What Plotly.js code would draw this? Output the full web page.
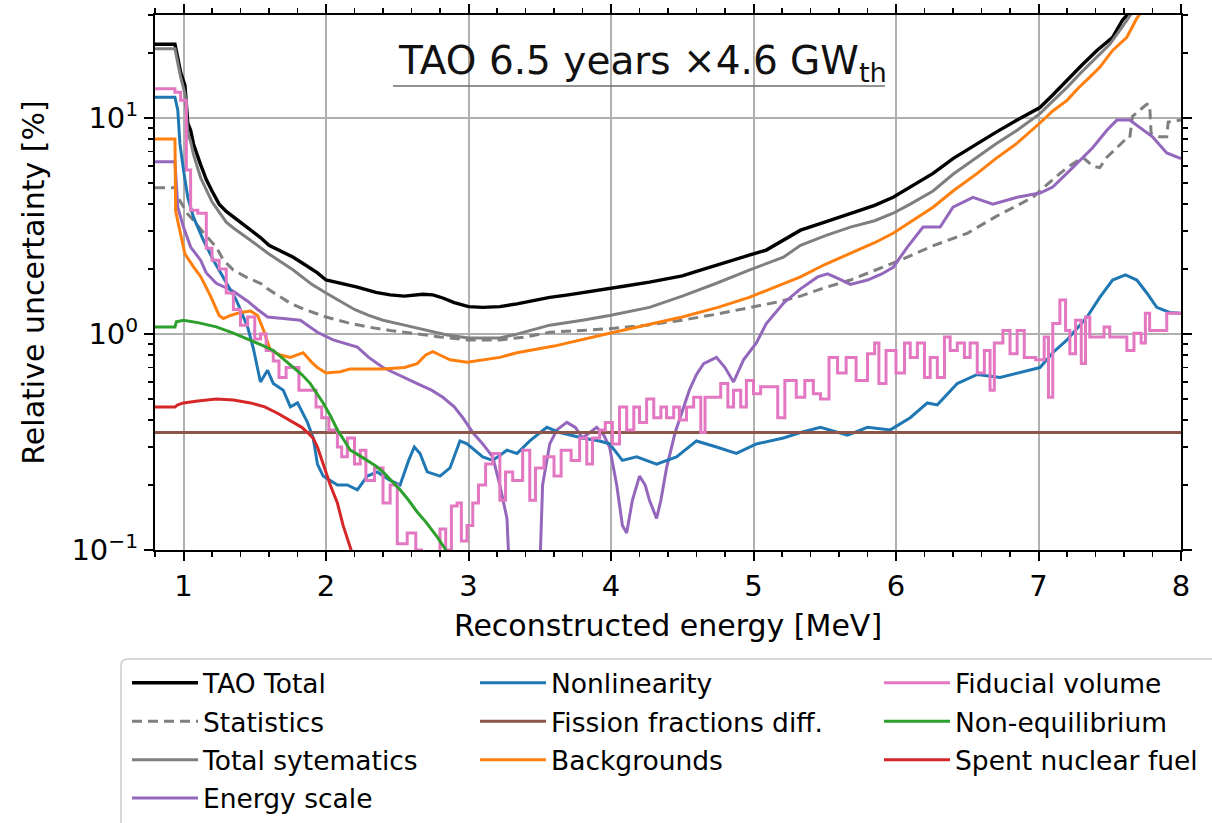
<!DOCTYPE html>
<html>
<head>
<meta charset="utf-8">
<script src="https://cdn.plot.ly/plotly-3.0.1.min.js"></script>
<style>
  html, body { margin: 0; padding: 0; background: #fff; }
  #chart { width: 1212px; height: 823px; }
</style>
</head>
<body>
<div id="chart"></div>
<script>
// Relative uncertainty [%] versus reconstructed energy [MeV]

const totalE = [0.8,0.94,0.96,0.98,1.01,1.03,1.05,1.07,1.12,1.16,1.2,1.25,1.3,1.4,1.47,1.54,1.6,1.7,1.77,1.85,1.94,2.0,2.1,2.22,2.35,2.45,2.55,2.68,2.75,2.82,2.9,3.0,3.1,3.22,3.34,3.45,3.57,3.7,3.85,3.99,4.1,4.27,4.4,4.5,4.6,4.74,4.85,4.97,5.09,5.2,5.33,5.5,5.68,5.85,5.98,6.1,6.26,6.4,6.57,6.7,6.85,7.01,7.1,7.2,7.3,7.41,7.52,7.59,7.64];
const totalV = [22,22,19,16.3,14.2,9.5,8.8,7.6,6.1,5.2,4.6,4.0,3.7,3.3,3.03,2.8,2.58,2.4,2.27,2.1,1.92,1.78,1.72,1.65,1.56,1.52,1.5,1.53,1.52,1.47,1.4,1.34,1.33,1.34,1.38,1.43,1.48,1.52,1.58,1.63,1.67,1.74,1.8,1.86,1.95,2.09,2.2,2.32,2.45,2.7,3.03,3.3,3.63,3.95,4.3,4.8,5.55,6.5,7.66,8.6,9.8,11.2,12.8,15,17.5,20.6,23.7,28.5,31];

const statE = [0.8,0.94,0.97,1.0,1.03,1.07,1.15,1.23,1.28,1.35,1.45,1.54,1.59,1.67,1.75,1.85,2.0,2.15,2.29,2.45,2.64,2.8,2.99,3.22,3.4,3.57,3.8,3.99,4.25,4.5,4.75,4.97,5.15,5.33,5.5,5.68,5.85,6.03,6.25,6.5,6.7,6.96,7.1,7.2,7.31,7.38,7.43,7.48,7.55,7.62,7.64,7.66,7.71,7.76,7.78,7.79,7.85,7.9,7.91,8.0];
const statV = [4.76,4.76,4.2,3.9,3.6,3.37,2.9,2.53,2.2,1.98,1.82,1.72,1.62,1.5,1.39,1.3,1.2,1.13,1.08,1.04,1.0,0.97,0.94,0.94,0.97,1.02,1.04,1.06,1.1,1.16,1.24,1.32,1.4,1.5,1.64,1.78,1.98,2.2,2.55,2.93,3.5,4.3,5.2,5.9,6.6,6.0,5.9,6.6,7.3,8.1,8.1,10.2,10.9,11.6,11.6,8.5,8.2,8.2,9.6,9.8];

const sysE = [0.8,0.94,0.96,0.98,1.01,1.03,1.05,1.07,1.12,1.2,1.3,1.35,1.47,1.6,1.77,1.9,2.0,2.1,2.2,2.3,2.4,2.55,2.71,2.85,3.0,3.22,3.34,3.57,3.8,3.99,4.27,4.5,4.74,4.97,5.21,5.33,5.5,5.68,5.85,5.98,6.1,6.26,6.4,6.57,6.7,6.85,7.01,7.1,7.2,7.3,7.41,7.5,7.57,7.66];
const sysV = [21,21,18,15.5,13,8.5,7.8,6.8,5.3,4.1,3.3,3.1,2.72,2.35,1.98,1.7,1.55,1.42,1.3,1.22,1.16,1.1,1.04,0.99,0.96,0.96,1.0,1.1,1.16,1.22,1.33,1.5,1.72,1.98,2.27,2.58,2.85,3.13,3.35,3.63,4.0,4.6,5.5,6.6,7.6,8.8,10.5,12,13.9,16.3,19.2,22,25.5,31];

const escaleE = [0.8,0.94,0.96,1.0,1.05,1.12,1.16,1.23,1.35,1.45,1.52,1.59,1.7,1.82,1.94,2.05,2.22,2.3,2.4,2.52,2.64,2.74,2.82,2.9,2.96,3.03,3.1,3.17,3.22,3.27,3.3,3.49,3.52,3.57,3.62,3.69,3.75,3.8,3.85,3.9,3.95,3.99,4.04,4.08,4.11,4.15,4.2,4.24,4.27,4.32,4.35,4.39,4.45,4.5,4.55,4.6,4.65,4.74,4.8,4.86,4.93,5.02,5.09,5.21,5.33,5.45,5.52,5.6,5.68,5.8,5.9,5.98,6.08,6.19,6.31,6.4,6.54,6.68,6.85,7.01,7.1,7.24,7.38,7.48,7.55,7.64,7.71,7.8,7.9,8.0];
const escaleV = [6.28,6.28,3.87,3.13,2.53,2.2,1.92,1.72,1.58,1.42,1.3,1.2,1.18,1.16,1.02,0.94,0.87,0.78,0.7,0.64,0.59,0.55,0.51,0.46,0.41,0.35,0.31,0.27,0.2,0.14,0.05,0.05,0.2,0.31,0.36,0.39,0.37,0.33,0.35,0.37,0.34,0.3,0.2,0.13,0.12,0.17,0.22,0.2,0.17,0.14,0.17,0.24,0.35,0.44,0.55,0.65,0.73,0.78,0.7,0.6,0.76,0.91,1.12,1.39,1.62,1.84,1.9,1.8,1.7,1.78,1.9,2.04,2.53,3.13,3.13,3.87,4.3,4.0,4.3,4.5,4.8,5.9,7.3,8.8,9.8,9.8,9.1,8.2,6.9,6.5];

const nonlinE = [0.8,0.94,0.96,0.975,1.0,1.03,1.07,1.14,1.21,1.28,1.37,1.45,1.49,1.54,1.59,1.63,1.7,1.75,1.8,1.87,1.91,1.94,1.98,2.08,2.15,2.22,2.29,2.36,2.45,2.52,2.58,2.62,2.66,2.71,2.8,2.87,2.94,2.99,3.1,3.17,3.27,3.34,3.43,3.55,3.64,3.8,3.92,3.99,4.08,4.18,4.32,4.46,4.6,4.74,4.88,5.02,5.21,5.33,5.47,5.66,5.8,5.96,6.1,6.22,6.29,6.43,6.57,6.73,6.85,7.01,7.1,7.2,7.34,7.43,7.52,7.61,7.69,7.76,7.83,7.92,8.0];
const nonlinV = [12.5,12.5,10.9,7.6,5.75,4.3,3.48,2.72,2.2,1.84,1.44,1.08,0.86,0.6,0.68,0.59,0.55,0.46,0.48,0.39,0.33,0.25,0.22,0.2,0.2,0.19,0.22,0.23,0.21,0.2,0.26,0.3,0.28,0.23,0.22,0.24,0.32,0.31,0.27,0.26,0.29,0.28,0.32,0.37,0.35,0.33,0.32,0.31,0.26,0.27,0.25,0.27,0.32,0.3,0.28,0.31,0.33,0.35,0.37,0.34,0.37,0.36,0.41,0.48,0.47,0.59,0.65,0.63,0.66,0.7,0.82,0.94,1.2,1.48,1.78,1.88,1.78,1.55,1.33,1.26,1.25];

const fissionE = [0.8,8.0];
const fissionV = [0.35,0.35];

const bkgE = [0.8,0.94,0.945,0.975,1.01,1.07,1.12,1.19,1.25,1.28,1.33,1.4,1.47,1.52,1.56,1.61,1.68,1.75,1.84,1.9,1.94,2.0,2.1,2.17,2.4,2.55,2.64,2.7,2.75,2.8,2.87,2.99,3.22,3.34,3.6,3.99,4.25,4.5,4.75,4.97,5.15,5.33,5.5,5.68,5.85,5.98,6.1,6.26,6.4,6.57,6.7,6.85,7.01,7.1,7.2,7.28,7.36,7.43,7.52,7.62,7.69,7.72];
const bkgV = [8.0,8.0,3.7,3.0,2.35,2.05,1.85,1.5,1.22,1.18,1.22,1.26,1.28,1.22,1.05,0.84,0.8,0.78,0.82,0.74,0.7,0.66,0.67,0.69,0.69,0.7,0.73,0.8,0.83,0.8,0.76,0.74,0.78,0.82,0.88,1.01,1.1,1.2,1.33,1.48,1.65,1.84,2.1,2.37,2.65,2.93,3.3,3.87,4.6,5.55,6.5,7.66,9.5,10.8,12.1,13.8,15.5,17.2,20.6,23.7,29,31];

const fidE = [0.8,0.94,0.98,1.02,1.05,1.1,1.16,1.2,1.25,1.3,1.35,1.4,1.45,1.5,1.54,1.58,1.63,1.67,1.72,1.78,1.81,1.9,1.93,1.97,2.02,2.08,2.11,2.15,2.2,2.24,2.28,2.34,2.4,2.45,2.5,2.57,2.63,2.67,2.8,2.84,2.88,2.92,2.95,2.99,3.03,3.07,3.12,3.17,3.22,3.26,3.31,3.38,3.43,3.47,3.53,3.6,3.65,3.72,3.78,3.83,3.87,3.92,3.96,4.01,4.06,4.11,4.16,4.2,4.25,4.3,4.35,4.39,4.44,4.48,4.53,4.58,4.63,4.66,4.77,4.82,4.86,4.91,4.95,5.0,5.05,5.17,5.22,5.3,5.36,5.42,5.47,5.53,5.59,5.65,5.72,5.8,5.85,5.88,5.93,6.0,6.06,6.1,6.15,6.2,6.24,6.29,6.34,6.38,6.43,6.48,6.52,6.57,6.62,6.66,6.69,6.75,6.8,6.85,6.9,6.98,7.04,7.07,7.1,7.15,7.19,7.22,7.26,7.3,7.33,7.36,7.46,7.5,7.62,7.67,7.72,7.75,7.78,7.9,8.0];
const fidV = [13.7,13.2,12.1,5.75,3.75,3.63,2.5,2.2,2.0,1.55,1.3,1.1,1.2,0.95,1.0,0.84,0.75,0.63,0.7,0.7,0.55,0.55,0.46,0.41,0.36,0.3,0.27,0.33,0.25,0.29,0.21,0.24,0.165,0.2,0.107,0.12,0.1,0.08,0.125,0.1,0.16,0.165,0.11,0.13,0.165,0.2,0.25,0.28,0.17,0.23,0.21,0.29,0.17,0.24,0.27,0.22,0.29,0.26,0.33,0.25,0.33,0.36,0.39,0.31,0.46,0.36,0.46,0.39,0.5,0.41,0.46,0.41,0.46,0.4,0.46,0.51,0.35,0.51,0.59,0.46,0.55,0.46,0.61,0.53,0.57,0.41,0.61,0.51,0.61,0.53,0.5,0.78,0.66,0.78,0.61,0.81,0.91,0.59,0.84,0.66,0.91,0.78,0.91,0.63,0.78,0.63,0.97,0.84,0.91,0.78,0.91,0.66,0.84,0.55,0.91,1.04,0.81,1.04,0.78,0.76,0.97,0.51,1.12,1.44,1.04,0.81,1.16,0.73,1.2,0.97,1.08,0.97,0.84,1.01,0.91,1.25,1.04,1.25,1.25];

const noneqE = [0.8,0.94,0.95,1.0,1.1,1.23,1.35,1.47,1.55,1.63,1.7,1.77,1.83,1.89,1.94,1.98,2.03,2.08,2.13,2.17,2.23,2.29,2.35,2.4,2.46,2.52,2.58,2.64,2.7,2.78,2.85];
const noneqV = [1.08,1.08,1.14,1.16,1.13,1.08,1.01,0.94,0.89,0.84,0.77,0.7,0.65,0.59,0.53,0.48,0.42,0.36,0.32,0.29,0.275,0.26,0.245,0.23,0.21,0.19,0.17,0.15,0.135,0.115,0.098];

const snfE = [0.8,0.94,0.96,1.0,1.1,1.23,1.35,1.47,1.57,1.66,1.77,1.83,1.87,1.91,1.94,1.98,2.03,2.08,2.12,2.17,2.2];
const snfV = [0.46,0.46,0.47,0.48,0.49,0.5,0.495,0.48,0.46,0.43,0.39,0.37,0.35,0.33,0.3,0.25,0.2,0.165,0.13,0.103,0.09];

const FONT = 'DejaVu Sans, Verdana, sans-serif';

function series(name, x, y, color, opts) {
  opts = opts || {};
  return {
    type: 'scatter', mode: 'lines', name: name, x: x, y: y,
    legendgroup: name,
    line: { color: color, width: opts.width || 3, dash: opts.dash || 'solid', shape: opts.shape || 'linear' },
    legend: opts.legend || 'legend',
    hoverinfo: 'skip'
  };
}

const traces = [
  series('TAO Total', totalE, totalV, '#000000', { width: 3.4 }),
  series('Statistics', statE, statV, '#7f7f7f', { dash: '10px,6px' }),
  series('Total sytematics', sysE, sysV, '#7f7f7f'),
  series('Energy scale', escaleE, escaleV, '#9467bd'),
  series('Nonlinearity', nonlinE, nonlinV, '#1f77b4', { legend: 'legend2' }),
  series('Fission fractions diff.', fissionE, fissionV, '#8c564b', { legend: 'legend2' }),
  series('Backgrounds', bkgE, bkgV, '#ff7f0e', { legend: 'legend2' }),
  series('Fiducial volume', fidE, fidV, '#e377c2', { legend: 'legend3', shape: 'hv' }),
  series('Non-equilibrium', noneqE, noneqV, '#2ca02c', { legend: 'legend3' }),
  series('Spent nuclear fuel', snfE, snfV, '#d62728', { legend: 'legend3' })
];

// plot area in pixels (for placing paper-referenced decorations)
const W = 1212, H = 823, ML = 155, MR = 31, MT = 15, MB = 273;
const PW = W - ML - MR, PH = H - MT - MB;
const px = v => (v - ML) / PW;
const py = v => (H - MB - v) / PH;

const legendBase = {
  orientation: 'v', bgcolor: 'rgba(0,0,0,0)', borderwidth: 0,
  font: { family: FONT, size: 26.5, color: '#000' },
  itemwidth: 66, xanchor: 'left', yanchor: 'top',
  traceorder: 'grouped', tracegroupgap: 1,
  itemclick: false, itemdoubleclick: false
};

const yMinor = [0.2,0.3,0.4,0.5,0.6,0.7,0.8,0.9,2,3,4,5,6,7,8,9,20,30];

const layout = {
  width: W, height: H,
  margin: { l: ML, r: MR, t: MT, b: MB, pad: 0, autoexpand: false },
  paper_bgcolor: '#fff', plot_bgcolor: '#fff',
  font: { family: FONT, color: '#000' },
  showlegend: true,
  xaxis: {
    range: [0.8, 8], tickvals: [1,2,3,4,5,6,7,8],
    ticks: 'outside', ticklen: 9, tickwidth: 2, tickcolor: '#000',
    showline: true, linewidth: 2, linecolor: '#000', mirror: 'allticks',
    showgrid: true, gridcolor: '#b0b0b0', gridwidth: 2, zeroline: false,
    tickfont: { family: FONT, size: 29, color: '#000' },
    minor: { dtick: 0.2, tick0: 0, ticks: 'outside', ticklen: 5, tickwidth: 1.5, tickcolor: '#000', showgrid: false },
    title: { text: 'Reconstructed energy [MeV]', font: { family: FONT, size: 30, color: '#000' }, standoff: 13 },
    automargin: false
  },
  yaxis: {
    type: 'log', range: [-1, 1.478],
    tickvals: [0.1, 1, 10], ticktext: ['10<sup>\u22121</sup>', '10<sup>0</sup>', '10<sup>1</sup>'],
    ticks: 'outside', ticklen: 9, tickwidth: 2, tickcolor: '#000',
    showline: true, linewidth: 2, linecolor: '#000', mirror: 'allticks',
    showgrid: true, gridcolor: '#b0b0b0', gridwidth: 2, zeroline: false,
    tickfont: { family: FONT, size: 29, color: '#000' },
    minor: { tickmode: 'array', tickvals: yMinor, ticks: 'outside', ticklen: 5, tickwidth: 1.5, tickcolor: '#000', showgrid: false },
    title: { text: 'Relative uncertainty [%]', font: { family: FONT, size: 30, color: '#000' }, standoff: 18 },
    automargin: false
  },
  legend:  Object.assign({}, legendBase, { x: px(127), y: py(659) }),
  legend2: Object.assign({}, legendBase, { x: px(475), y: py(659) }),
  legend3: Object.assign({}, legendBase, { x: px(879), y: py(659) }),
  annotations: [{
    xref: 'paper', yref: 'paper', x: px(642), y: py(63),
    xanchor: 'center', yanchor: 'middle', showarrow: false,
    text: 'TAO 6.5 years \u00d74.6 GW<sub>th</sub>',
    font: { family: FONT, size: 39, color: '#111' }
  }],
  shapes: [
    { type: 'line', xref: 'paper', yref: 'paper', x0: px(393), x1: px(885), y0: py(86), y1: py(86),
      line: { color: '#6e6e6e', width: 1.5 } },
    { type: 'path', xref: 'paper', yref: 'paper',
      path: 'M ' + px(121) + ',' + py(666) + ' Q ' + px(121) + ',' + py(659) + ' ' + px(128) + ',' + py(659) +
            ' L ' + px(1230) + ',' + py(659) + ' L ' + px(1230) + ',' + py(840) + ' L ' + px(121) + ',' + py(840) + ' Z',
      line: { color: '#cccccc', width: 1.5 }, fillcolor: 'rgba(0,0,0,0)' }
  ]
};

Plotly.newPlot('chart', traces, layout, { staticPlot: true, displayModeBar: false });
</script>
</body>
</html>
